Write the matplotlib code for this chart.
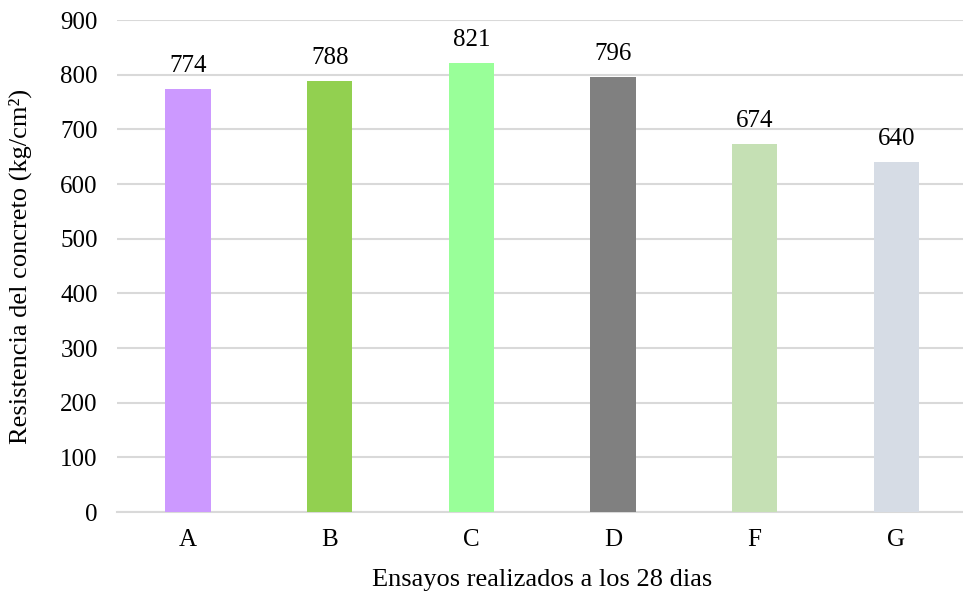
import matplotlib.pyplot as plt
import numpy as np

plt.rcParams['font.family'] = ['Liberation Serif', 'DejaVu Serif']

categorias = ['A', 'B', 'C', 'D', 'F', 'G']
resistencia = [774, 788, 821, 796, 674, 640]
colores = ['#CC99FF', '#92D050', '#99FF99', '#808080', '#C5E0B4', '#D6DCE5']

fig = plt.figure(figsize=(9.63, 5.94), dpi=100)
ax = fig.add_axes([0.1217, 0.138, 0.8826, 0.828])

x = np.arange(len(categorias))
bars = ax.bar(x, resistencia, width=0.32, color=colores, zorder=3)

# etiquetas de valores
for xi, v in zip(x, resistencia):
    ax.text(xi, v + 22, str(v), ha='center', va='bottom', fontsize=18, color='#000000')

ax.set_xlim(-0.5, len(categorias) - 0.5)
ax.set_ylim(0, 900)
ax.set_yticks(np.arange(0, 901, 100))
ax.set_xticks(x)
ax.set_xticklabels(categorias)
ax.tick_params(axis='both', length=0, labelsize=18, colors='#000000')
ax.tick_params(axis='x', pad=12)
ax.tick_params(axis='y', pad=14)

ax.grid(axis='y', color='#D9D9D9', linewidth=1.5, zorder=0)
for s in ['top', 'right', 'left']:
    ax.spines[s].set_visible(False)
ax.spines['bottom'].set_color('#D9D9D9')
ax.spines['bottom'].set_linewidth(1.5)

ax.set_xlabel('Ensayos realizados a los 28 dias', fontsize=19)
ax.set_ylabel('Resistencia del concreto (kg/cm²)', fontsize=19)
ax.xaxis.set_label_coords(0.5, -0.115)
ax.yaxis.set_label_coords(-0.1, 0.5)

fig.savefig('out.png', dpi=100)
